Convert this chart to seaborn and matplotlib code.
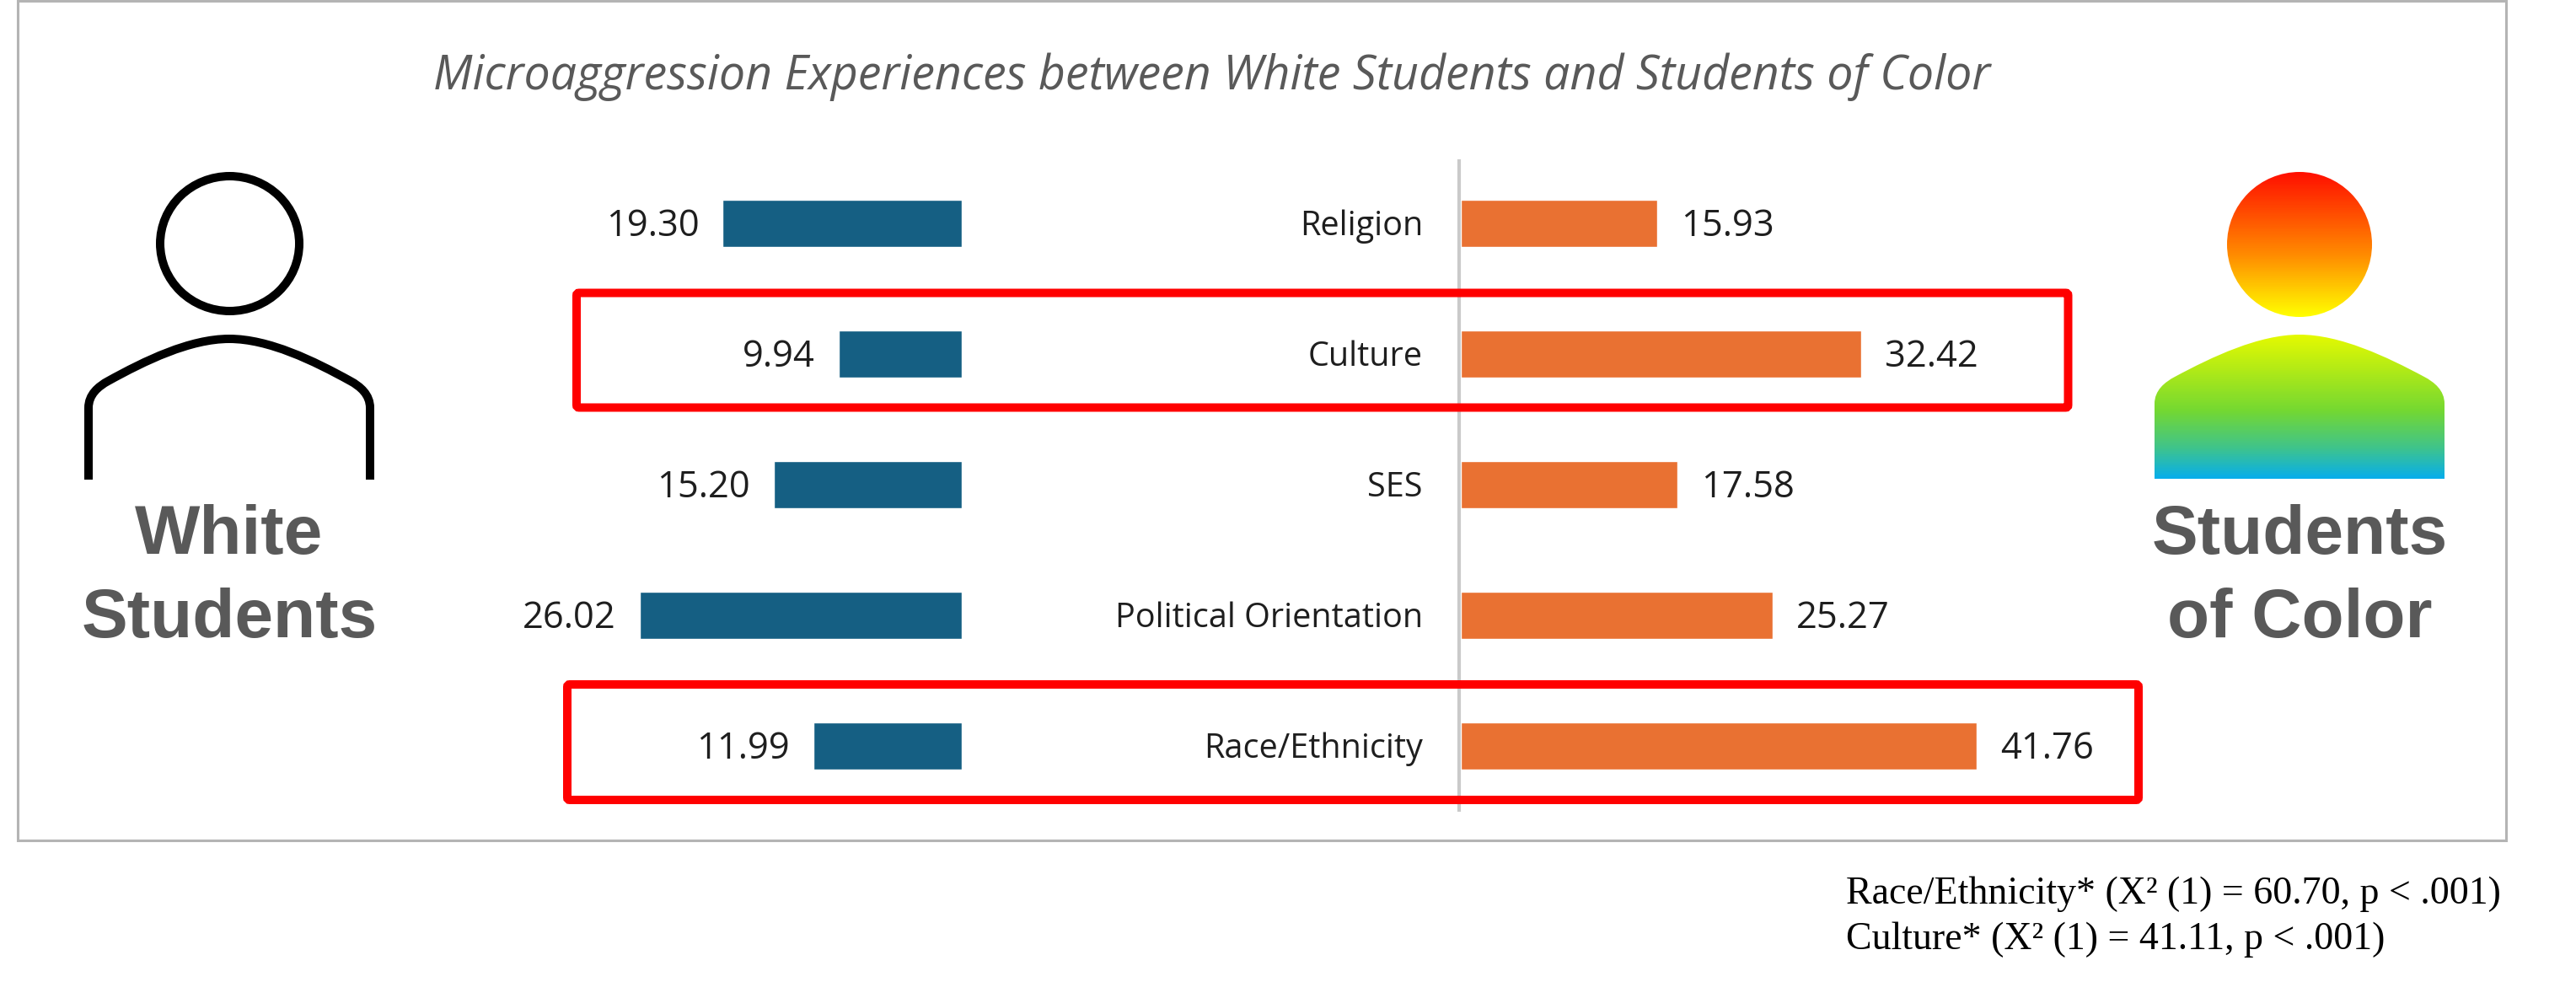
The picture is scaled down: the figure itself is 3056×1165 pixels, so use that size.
import numpy as np
import pandas as pd
import matplotlib
matplotlib.use("Agg")
import matplotlib.pyplot as plt
from matplotlib.colors import LinearSegmentedColormap
from matplotlib.patches import Ellipse, FancyBboxPatch, PathPatch, Rectangle
from matplotlib.path import Path
import seaborn as sns

categories = ["Religion", "Culture", "SES", "Political Orientation", "Race/Ethnicity"]
white_students = [19.30, 9.94, 15.20, 26.02, 11.99]
students_of_color = [15.93, 32.42, 17.58, 25.27, 41.76]
title = "Microaggression Experiences between White Students and Students of Color"
footnotes = ["Race/Ethnicity* (X² (1) = 60.70, p < .001)", "Culture* (X² (1) = 41.11, p < .001)"]

W, H = 3056, 1165
DPI = 100
PX_PER_UNIT = 14.67
TEAL = "#155F83"
ORANGE = "#E97132"
GREY = "#595959"
INK = "#1E1E1E"

sns.set_theme(style="white")
plt.rcParams["font.family"] = ["Open Sans", "DejaVu Sans"]

fig = plt.figure(figsize=(W / DPI, H / DPI), dpi=DPI, facecolor="white")


def px_axes(x0, y0, x1, y1, **kw):
    """Axes placed by pixel box, with y measured from the top of the figure."""
    return fig.add_axes([x0 / W, 1 - y1 / H, (x1 - x0) / W, (y1 - y0) / H], **kw)


# Full-figure layer in pixel units for the frame, icons and annotations.
bg = px_axes(0, 0, W, H)
bg.set_xlim(0, W)
bg.set_ylim(H, 0)
bg.axis("off")
bg.add_patch(Rectangle((21, 1), 2952, 996, fill=False, ec="#B4B4B4", lw=2.2))

# Row pitch 155 px: panels span 5 rows centred on y = 265 ... 885.
ROW = 155
top, bottom = 265 - ROW / 2, 885 + ROW / 2
left_zero, right_zero = 1140.5, 1732.5
span = 45.0
df = pd.DataFrame({"category": categories, "white": white_students, "color": students_of_color})

axL = px_axes(left_zero - span * PX_PER_UNIT, top, left_zero, bottom)
sns.barplot(data=df, y="category", x="white", color=TEAL, saturation=1, width=0.355, ax=axL)
axL.set_xlim(span, 0)

axR = px_axes(right_zero, top, right_zero + span * PX_PER_UNIT, bottom)
sns.barplot(data=df, y="category", x="color", color=ORANGE, saturation=1, width=0.355, ax=axR)
axR.set_xlim(0, span)

for ax in (axL, axR):
    ax.patch.set_alpha(0)
    ax.set_xlabel("")
    ax.set_ylabel("")
    ax.set_xticks([])
    ax.set_yticks([])
    sns.despine(ax=ax, left=True, bottom=True)
    # Value labels, nudged down so the digits sit on the bar's midline.
    for label in ax.bar_label(ax.containers[0], fmt="%.2f", padding=20, fontsize=31.3, color=INK):
        dx, dy = label.xyann
        label.xyann = (dx, dy - 2.6)

# Category names sit right-aligned just left of the centre divider.
for row, name in enumerate(categories):
    bg.text(1688, 265 + row * ROW + 4, name, ha="right", va="center", fontsize=28.5, color=INK)

bg.plot([1731, 1731], [189, 963], color="#CACACA", lw=3, solid_capstyle="butt")

# Highlight boxes around the two significant rows.
for x0, y0, x1, y1 in [(684, 347.5, 2453.5, 483.5), (673, 812, 2537, 949)]:
    bg.add_patch(FancyBboxPatch((x0, y0), x1 - x0, y1 - y0, boxstyle="round,pad=0,rounding_size=3",
                                fill=False, ec="#FF0000", lw=7.2, zorder=6))

bg.text(1438, 91, title, ha="center", va="center", fontsize=40, style="italic", color=GREY)


def body_path(x0, x1, ytop, ybot, close):
    """Shoulder outline of the person icon, built from tangent-continuous cubic segments."""
    w = x1 - x0
    cx = (x0 + x1) / 2
    shoulder_y = ytop + 50
    neck_y = ytop + 82
    verts = [(x0, ybot), (x0, neck_y),
             (x0, shoulder_y + 16), (x0 + 0.035 * w, shoulder_y + 6.4), (x0 + 0.07 * w, shoulder_y),
             (x0 + 0.2 * w, ytop + 26), (x0 + 0.36 * w, ytop), (cx, ytop),
             (x1 - 0.36 * w, ytop), (x1 - 0.2 * w, ytop + 26), (x1 - 0.07 * w, shoulder_y),
             (x1 - 0.035 * w, shoulder_y + 6.4), (x1, shoulder_y + 16), (x1, neck_y),
             (x1, ybot)]
    codes = [Path.MOVETO, Path.LINETO] + [Path.CURVE4] * 12 + [Path.LINETO]
    if close:
        verts.append((x0, ybot))
        codes.append(Path.CLOSEPOLY)
    return Path(verts, codes)


# Outline icon for White Students.
bg.add_patch(Ellipse((272.5, 289), 165, 160, fill=False, ec="black", lw=7.2))
bg.add_patch(PathPatch(body_path(105, 439, 402, 569, False), fill=False, ec="black", lw=7.2,
                       capstyle="butt", joinstyle="round"))

# Gradient icon for Students of Color.
rainbow = LinearSegmentedColormap.from_list(
    "icon", [(0, "#FF1000"), (0.27, "#FF8C00"), (0.47, "#FFFF00"), (0.53, "#E6FA00"),
             (0.78, "#74D832"), (0.9, "#40C48A"), (1, "#08AEEA")])
grad = np.linspace(0, 1, 400).reshape(-1, 1)
for clip in [Ellipse((2728, 290), 172, 172, transform=bg.transData, fc="none", ec="none"),
             PathPatch(body_path(2556, 2900, 397, 568, True), transform=bg.transData, fc="none", ec="none")]:
    bg.add_patch(clip)
    im = bg.imshow(grad, cmap=rainbow, extent=(2550, 2906, 568, 204), aspect="auto", zorder=2)
    im.set_clip_path(clip)
bg.set_xlim(0, W)
bg.set_ylim(H, 0)

side = dict(ha="center", va="baseline", fontsize=59, fontweight="bold", color=GREY, family="Liberation Sans")
bg.text(272, 657, "White", **side)
bg.text(272, 756, "Students", **side)
bg.text(2728, 657, "Students", **side)
bg.text(2728, 756, "of Color", **side)

for y, line in zip((1072, 1126), footnotes):
    bg.text(2190, y, line, ha="left", va="baseline", fontsize=33, family="Liberation Serif", color="black")

fig.savefig("out.png", dpi=DPI)
